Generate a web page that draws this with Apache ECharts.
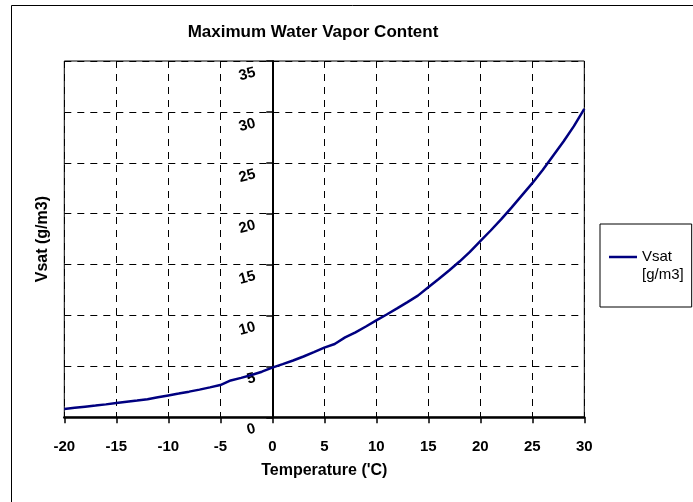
<!DOCTYPE html>
<html>
<head>
<meta charset="utf-8">
<script src="https://cdn.jsdelivr.net/npm/echarts@6/dist/echarts.min.js"></script>
<style>
html,body{margin:0;padding:0;background:#fff;}
#chart{width:693px;height:502px;}
</style>
</head>
<body>
<div id="chart"></div>
<script>
var titleText = "Maximum Water Vapor Content";
var xName = "Temperature ('C)";
var yName = "Vsat (g/m3)";
var seriesName = "Vsat [g/m3]";
var temperatures = [-20,-19,-18,-17,-16,-15,-14,-13,-12,-11,-10,-9,-8,-7,-6,-5,-4,-3,-2,-1,0,1,2,3,4,5,6,7,8,9,10,11,12,13,14,15,16,17,18,19,20,21,22,23,24,25,26,27,28,29,30];
var vsat = [0.82,0.93,1.04,1.15,1.27,1.40,1.52,1.64,1.77,1.97,2.15,2.33,2.52,2.72,2.94,3.17,3.62,3.87,4.15,4.48,4.88,5.22,5.58,5.97,6.40,6.85,7.20,7.85,8.35,8.92,9.52,10.1,10.7,11.32,11.95,12.77,13.58,14.42,15.3,16.25,17.3,18.35,19.45,20.6,21.8,23.0,24.3,25.7,27.1,28.6,30.3];
var xMin = -20, xMax = 30, xStep = 5;
var yMin = 0, yMax = 35, yStep = 5;

var FONT = "'Liberation Sans', Arial, sans-serif";
var chart = echarts.init(document.getElementById('chart'));
var data = temperatures.map(function (t, i) { return [t, vsat[i]]; });
var dash = [7, 6];

var gridLeft = 64.3, gridRight = 108.7;
var plotWidth = 693 - gridLeft - gridRight;
// place the y axis at x = 0 (offset measured from the grid's left edge)
var yAxisOffset = -plotWidth * (0 - xMin) / (xMax - xMin);

chart.setOption({
  animation: false,
  backgroundColor: '#fff',
  graphic: [
    { type: 'rect', shape: { x: 11.5, y: 5.5, width: 700, height: 520 },
      style: { fill: 'none', stroke: '#000', lineWidth: 1 }, z: 0 },
    { type: 'text', x: 313, y: 32,
      style: { text: titleText, font: 'bold 17px ' + FONT, fill: '#000',
               textAlign: 'center', textVerticalAlign: 'middle' } }
  ],
  grid: { left: gridLeft, top: 61, right: gridRight, bottom: 84.7, show: true,
          borderColor: '#000', borderWidth: 1, backgroundColor: '#fff',
          outerBoundsMode: 'none' },
  legend: {
    left: 600, top: 224, orient: 'vertical',
    padding: [6, 8, 23, 9],
    borderColor: '#000', borderWidth: 1, backgroundColor: '#fff',
    icon: 'rect', itemWidth: 28, itemHeight: 2.5,
    formatter: function () { return ' \nVsat\n[g/m3]'; },
    textStyle: { fontFamily: FONT, fontSize: 15, color: '#000', lineHeight: 18 },
    data: [seriesName]
  },
  xAxis: {
    type: 'value', min: xMin, max: xMax, interval: xStep,
    name: xName, nameLocation: 'middle', nameGap: 45,
    nameTextStyle: { fontFamily: FONT, fontWeight: 'bold', fontSize: 16, color: '#000' },
    axisLine: { onZero: true, lineStyle: { color: '#000', width: 2.5 } },
    axisTick: { show: true, length: 6, lineStyle: { color: '#000', width: 1.5 } },
    axisLabel: { fontFamily: FONT, fontWeight: 'bold', fontSize: 15, color: '#000',
                 margin: 22, showMinLabel: true, showMaxLabel: true },
    splitLine: { show: true, lineStyle: { color: '#000', width: 1, type: dash } }
  },
  yAxis: {
    type: 'value', min: yMin, max: yMax, interval: yStep,
    offset: yAxisOffset,
    name: yName, nameLocation: 'middle', nameGap: 222,
    nameTextStyle: { fontFamily: FONT, fontWeight: 'bold', fontSize: 16, color: '#000' },
    axisLine: { onZero: false, lineStyle: { color: '#000', width: 2 } },
    axisTick: { show: true, length: 6, lineStyle: { color: '#000', width: 1.5 } },
    axisLabel: { fontFamily: FONT, fontWeight: 'bold', fontSize: 15, color: '#000',
                 margin: 20, rotate: 15, align: 'right', verticalAlign: 'top',
                 padding: [4, 0, 0, 0], showMinLabel: true, showMaxLabel: true },
    splitLine: { show: true, lineStyle: { color: '#000', width: 1, type: dash } }
  },
  series: [{
    name: seriesName, type: 'line', data: data, symbol: 'none', smooth: false,
    lineStyle: { color: '#000080', width: 2.5 }, itemStyle: { color: '#000080' }, z: 5
  }]
});
</script>
</body>
</html>
